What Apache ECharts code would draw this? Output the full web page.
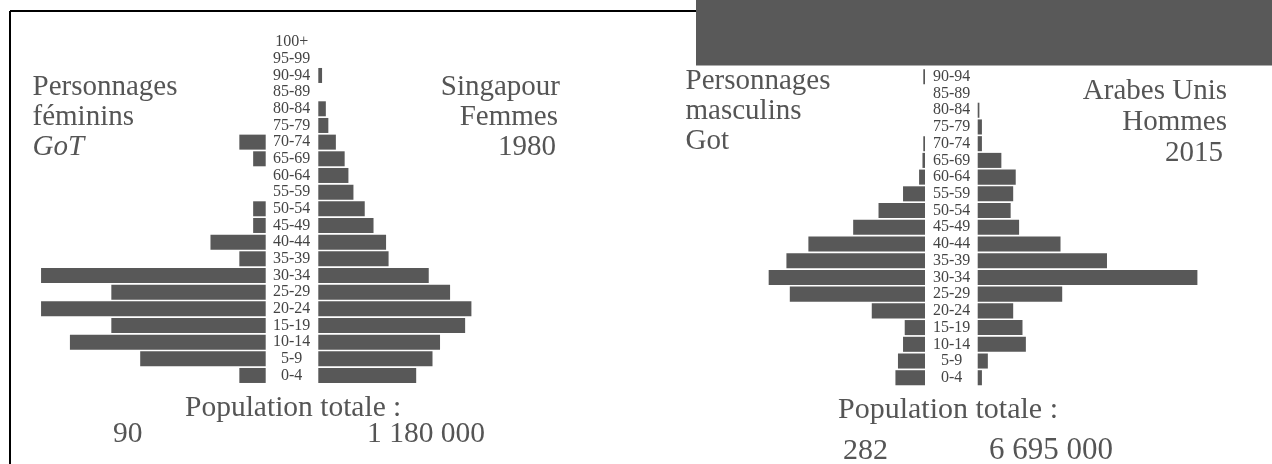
<!DOCTYPE html>
<html>
<head>
<meta charset="utf-8">
<script src="https://cdn.jsdelivr.net/npm/echarts@6/dist/echarts.min.js"></script>
<style>
html,body{margin:0;padding:0;background:#fff;}
#chart{width:1272px;height:464px;}
</style>
</head>
<body>
<div id="chart"></div>
<script>
// Age groups, bottom to top
const ageGroups = ['0-4','5-9','10-14','15-19','20-24','25-29','30-34','35-39','40-44','45-49','50-54','55-59','60-64','65-69','70-74','75-79','80-84','85-89','90-94','95-99','100+'];
// Percent of each population
const gotFemales = [2.1, 10.0, 15.6, 12.3, 17.9, 12.3, 17.9, 2.1, 4.4, 1.0, 1.0, 0, 0, 1.0, 2.1, 0, 0, 0, 0, 0, 0];
const singaporeFemales1980 = [7.8, 9.1, 9.7, 11.7, 12.2, 10.5, 8.8, 5.6, 5.4, 4.4, 3.7, 2.8, 2.4, 2.1, 1.4, 0.8, 0.6, 0, 0.3, 0, 0];
const gotMales = [3.5, 3.2, 2.6, 2.4, 6.3, 16.0, 18.5, 16.4, 13.8, 8.5, 5.5, 2.6, 0.7, 0.3, 0.2, 0, 0, 0, 0.2, 0, 0];
const uaeMales2015 = [0.5, 1.2, 5.7, 5.3, 4.2, 10.0, 26.0, 15.3, 9.8, 4.9, 3.9, 4.2, 4.5, 2.8, 0.5, 0.5, 0.2, 0, 0, 0, 0];

const leftTitle = ['Personnages', 'féminins', 'GoT'];
const leftRef = ['Singapour', 'Femmes', '1980'];
const rightTitle = ['Personnages', 'masculins', 'Got'];
const rightRef = ['Arabes Unis', 'Hommes', '2015'];
const totalLabel = 'Population totale :';
const totals = { gotF: '90', sgF: '1 180 000', gotM: '282', uaeM: '6 695 000' };

const FONT = '"Liberation Serif", "Times New Roman", serif';
const TXT = '#555555';
const BAR = '#585858';

const chart = echarts.init(document.getElementById('chart'), null, {renderer: 'canvas'});

function valAxis(grid, max, inverse) {
  return { type: 'value', gridIndex: grid, min: 0, max: max, inverse: inverse, show: false };
}
function catAxis(grid, show, margin) {
  return {
    type: 'category', gridIndex: grid, data: ageGroups, show: show,
    axisLine: {show: false}, axisTick: {show: false}, splitLine: {show: false},
    axisLabel: { show: show, align: 'center', margin: margin || 0, fontFamily: FONT, fontSize: 16, color: '#444444', interval: 0 }
  };
}
function barSeries(i, data) {
  return { type: 'bar', xAxisIndex: i, yAxisIndex: i, data: data, barCategoryGap: '10%',
    itemStyle: { color: BAR }, silent: true };
}
function txt(x, y, s, opts) {
  return Object.assign({ type: 'text', x: x, y: y, z: 50,
    style: Object.assign({ text: s, fontFamily: FONT, fontSize: 29, fill: TXT, textVerticalAlign: 'middle', verticalAlign: 'middle' }, opts || {}) });
}

const graphics = [];
// frame lines
graphics.push({ type: 'line', z: 40, shape: {x1: 10, y1: 11, x2: 700, y2: 11}, style: {stroke: '#000', lineWidth: 2} });
graphics.push({ type: 'line', z: 40, shape: {x1: 10, y1: 11, x2: 10, y2: 464}, style: {stroke: '#000', lineWidth: 2} });
// overlay rectangle
graphics.push({ type: 'rect', z: 100, shape: {x: 696, y: 0, width: 576, height: 65.5}, style: {fill: '#595959'} });

// Left panel texts
graphics.push(txt(32.5, 87, leftTitle[0]));
graphics.push(txt(32.5, 117, leftTitle[1]));
graphics.push(txt(32.5, 147, leftTitle[2], {fontStyle: 'italic'}));
graphics.push(txt(560, 87, leftRef[0], {align: 'right', textAlign: 'right'}));
graphics.push(txt(558, 117, leftRef[1], {align: 'right', textAlign: 'right'}));
graphics.push(txt(556, 147, leftRef[2], {align: 'right', textAlign: 'right'}));
graphics.push(txt(185, 408, totalLabel, {fontSize: 29.5}));
graphics.push(txt(113, 434, totals.gotF, {fontSize: 29.5}));
graphics.push(txt(367, 434, totals.sgF, {fontSize: 29.5}));

// Right panel texts
graphics.push(txt(685.5, 81, rightTitle[0]));
graphics.push(txt(685.5, 111, rightTitle[1]));
graphics.push(txt(685.5, 141, rightTitle[2]));
graphics.push(txt(1227, 91, rightRef[0], {align: 'right', textAlign: 'right'}));
graphics.push(txt(1227, 122, rightRef[1], {align: 'right', textAlign: 'right'}));
graphics.push(txt(1223, 153, rightRef[2], {align: 'right', textAlign: 'right'}));
graphics.push(txt(838, 410, totalLabel, {fontSize: 30}));
graphics.push(txt(843, 451, totals.gotM, {fontSize: 30}));
graphics.push(txt(989, 451, totals.uaeM, {fontSize: 31}));

const option = {
  animation: false,
  backgroundColor: '#ffffff',
  grid: [
    { left: 14.7, width: 251, top: 33.8, height: 350 },
    { left: 318.3, width: 251, top: 33.8, height: 350 },
    { left: 671.5, width: 253.5, top: 35, height: 351.1 },
    { left: 977.7, width: 253.5, top: 35, height: 351.1 }
  ],
  xAxis: [ valAxis(0, 20, true), valAxis(1, 20, false), valAxis(2, 30, true), valAxis(3, 30, false) ],
  yAxis: [ catAxis(0, false), catAxis(1, true, 26.6), catAxis(2, false), catAxis(3, true, 26.1) ],
  series: [ barSeries(0, gotFemales), barSeries(1, singaporeFemales1980), barSeries(2, gotMales), barSeries(3, uaeMales2015) ],
  graphic: graphics
};
chart.setOption(option);
</script>
</body>
</html>
